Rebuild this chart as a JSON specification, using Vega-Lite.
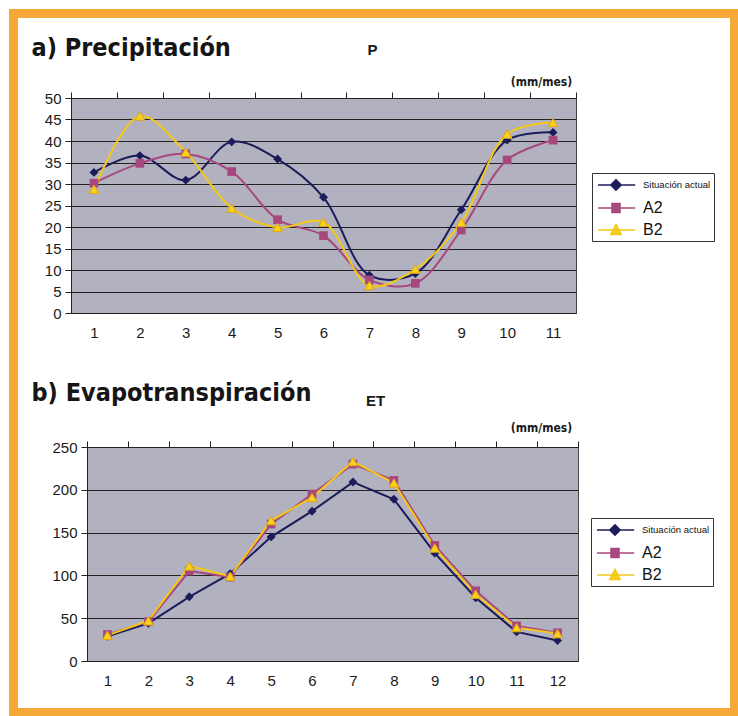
{
  "$schema": "https://vega.github.io/schema/vega-lite/v6.json",
  "background": "white",
  "padding": {"left": 8, "top": 8, "right": 0, "bottom": 0},
  "spacing": 134,
  "bounds": "flush",
  "datasets": {
    "precip": [
      {"mes": 1, "serie": "Situación actual", "valor": 32.7},
      {"mes": 2, "serie": "Situación actual", "valor": 36.6},
      {"mes": 3, "serie": "Situación actual", "valor": 30.9},
      {"mes": 4, "serie": "Situación actual", "valor": 39.8},
      {"mes": 5, "serie": "Situación actual", "valor": 35.8},
      {"mes": 6, "serie": "Situación actual", "valor": 26.9},
      {"mes": 7, "serie": "Situación actual", "valor": 8.8},
      {"mes": 8, "serie": "Situación actual", "valor": 9.2},
      {"mes": 9, "serie": "Situación actual", "valor": 24.0},
      {"mes": 10, "serie": "Situación actual", "valor": 40.2},
      {"mes": 11, "serie": "Situación actual", "valor": 42.0},
      {"mes": 1, "serie": "A2", "valor": 30.2},
      {"mes": 2, "serie": "A2", "valor": 34.8},
      {"mes": 3, "serie": "A2", "valor": 37.0},
      {"mes": 4, "serie": "A2", "valor": 32.9},
      {"mes": 5, "serie": "A2", "valor": 21.7},
      {"mes": 6, "serie": "A2", "valor": 18.0},
      {"mes": 7, "serie": "A2", "valor": 7.7},
      {"mes": 8, "serie": "A2", "valor": 6.9},
      {"mes": 9, "serie": "A2", "valor": 19.3},
      {"mes": 10, "serie": "A2", "valor": 35.6},
      {"mes": 11, "serie": "A2", "valor": 40.2},
      {"mes": 1, "serie": "B2", "valor": 28.8},
      {"mes": 2, "serie": "B2", "valor": 45.8},
      {"mes": 3, "serie": "B2", "valor": 37.4},
      {"mes": 4, "serie": "B2", "valor": 24.4},
      {"mes": 5, "serie": "B2", "valor": 19.9},
      {"mes": 6, "serie": "B2", "valor": 21.1},
      {"mes": 7, "serie": "B2", "valor": 6.4},
      {"mes": 8, "serie": "B2", "valor": 10.2},
      {"mes": 9, "serie": "B2", "valor": 21.1},
      {"mes": 10, "serie": "B2", "valor": 41.6},
      {"mes": 11, "serie": "B2", "valor": 44.3}
    ],
    "et": [
      {"mes": 1, "serie": "Situación actual", "valor": 29},
      {"mes": 2, "serie": "Situación actual", "valor": 44},
      {"mes": 3, "serie": "Situación actual", "valor": 75},
      {"mes": 4, "serie": "Situación actual", "valor": 102},
      {"mes": 5, "serie": "Situación actual", "valor": 145},
      {"mes": 6, "serie": "Situación actual", "valor": 175},
      {"mes": 7, "serie": "Situación actual", "valor": 209},
      {"mes": 8, "serie": "Situación actual", "valor": 189},
      {"mes": 9, "serie": "Situación actual", "valor": 126},
      {"mes": 10, "serie": "Situación actual", "valor": 74},
      {"mes": 11, "serie": "Situación actual", "valor": 34},
      {"mes": 12, "serie": "Situación actual", "valor": 24},
      {"mes": 1, "serie": "A2", "valor": 31},
      {"mes": 2, "serie": "A2", "valor": 46},
      {"mes": 3, "serie": "A2", "valor": 105},
      {"mes": 4, "serie": "A2", "valor": 98},
      {"mes": 5, "serie": "A2", "valor": 160},
      {"mes": 6, "serie": "A2", "valor": 195},
      {"mes": 7, "serie": "A2", "valor": 230},
      {"mes": 8, "serie": "A2", "valor": 211},
      {"mes": 9, "serie": "A2", "valor": 135},
      {"mes": 10, "serie": "A2", "valor": 82},
      {"mes": 11, "serie": "A2", "valor": 41},
      {"mes": 12, "serie": "A2", "valor": 33},
      {"mes": 1, "serie": "B2", "valor": 30},
      {"mes": 2, "serie": "B2", "valor": 47},
      {"mes": 3, "serie": "B2", "valor": 111},
      {"mes": 4, "serie": "B2", "valor": 99},
      {"mes": 5, "serie": "B2", "valor": 164},
      {"mes": 6, "serie": "B2", "valor": 191},
      {"mes": 7, "serie": "B2", "valor": 233},
      {"mes": 8, "serie": "B2", "valor": 208},
      {"mes": 9, "serie": "B2", "valor": 132},
      {"mes": 10, "serie": "B2", "valor": 78},
      {"mes": 11, "serie": "B2", "valor": 39},
      {"mes": 12, "serie": "B2", "valor": 32}
    ],
    "marco": [{"elemento": "marco"}]
  },
  "config": {
    "view": {"fill": "#b1b1c0", "stroke": "#444444", "strokeWidth": 1},
    "axis": {
      "domainColor": "#222222",
      "tickColor": "#222222",
      "gridColor": "#222222",
      "gridWidth": 1,
      "gridOpacity": 1,
      "labelFont": "Liberation Sans",
      "labelFontSize": 15,
      "labelColor": "#1a1a1a",
      "tickSize": 6
    },
    "legend": {
      "fillColor": "white",
      "strokeColor": "#333333",
      "padding": 3,
      "rowPadding": 5,
      "symbolSize": 256,
      "labelFont": "Liberation Sans",
      "labelColor": "#111111",
      "title": null
    }
  },
  "resolve": {"scale": {"color": "independent", "x": "independent", "y": "independent"}, "legend": {"color": "independent"}},
  "vconcat": [
    {
      "width": 505,
      "height": 215,
      "resolve": {"axis": {"x": "independent", "y": "independent"}},
      "layer": [
        {
          "data": {"name": "marco"},
          "mark": {"type": "rect", "filled": false, "color": "#f6a838", "strokeWidth": 9, "clip": false},
          "encoding": {
            "x": {"datum": -0.7525, "type": "quantitative", "scale": {"domain": [0.5, 11.5], "nice": false, "zero": false}, "axis": null},
            "x2": {"datum": 14.9525},
            "y": {"datum": 69.651, "type": "quantitative", "scale": {"domain": [0, 50], "nice": false, "zero": false}, "axis": null},
            "y2": {"datum": -92.907}
          }
        },
        {
          "data": {"name": "precip"},
          "mark": {"type": "line", "interpolate": "catmull-rom", "strokeWidth": 2},
          "encoding": {
            "x": {
              "field": "mes", "type": "quantitative",
              "axis": {
                "values": [1, 2, 3, 4, 5, 6, 7, 8, 9, 10, 11],
                "ticks": false, "domain": true, "grid": false, "labelPadding": 12,
                "labelFlush": false,
                "title": "(mm/mes)",
                "titleFont": "DejaVu Sans Condensed",
                "titleFontSize": 12, "titleFontWeight": "bold", "titleColor": "#1a1a1a",
                "titleAngle": 0, "titleAlign": "center", "titleBaseline": "alphabetic",
                "titleX": 470, "titleY": -228
              }
            },
            "y": {
              "field": "valor", "type": "quantitative",
              "axis": {
                "values": [0, 5, 10, 15, 20, 25, 30, 35, 40, 45, 50],
                "grid": true, "labelPadding": 4,
                "title": "a) Precipitación",
                "titleFont": "DejaVu Sans Condensed",
                "titleFontSize": 25, "titleFontWeight": "bold", "titleColor": "#151515",
                "titleAngle": 0, "titleAlign": "left", "titleBaseline": "alphabetic",
                "titleX": -40, "titleY": -43
              }
            },
            "color": {
              "field": "serie", "type": "nominal",
              "scale": {"domain": ["Situación actual", "A2", "B2"], "range": ["#1c1c5a", "#a8477e", "#f3c818"]},
              "legend": {
                "orient": "none", "legendX": 521, "legendY": 75,
                "encode": {
                  "symbols": {"update": {
                    "shape": {"signal": "datum.value === 'A2' ? 'M-0.75,0H3.9M1,-0.55H2V0.55H1Z' : datum.value === 'B2' ? 'M-0.75,0H3.9M1.5,-0.7L2.15,0.55H0.85Z' : 'M-0.75,0H3.9M1.5,-0.65L2.15,0L1.5,0.65L0.85,0Z'"},
                    "fill": {"signal": "datum.value === 'A2' ? '#a8477e' : datum.value === 'B2' ? '#f7d21a' : '#1c1c5a'"},
                    "stroke": {"signal": "datum.value === 'A2' ? '#a8477e' : datum.value === 'B2' ? '#f3e418' : '#1c1c5a'"},
                    "strokeWidth": {"value": 1.5},
                    "fillOpacity": {"value": 1},
                    "opacity": {"value": 1}
                  }},
                  "labels": {"update": {
                    "fontSize": {"signal": "datum.value === 'Situación actual' ? 9.5 : 16"},
                    "dx": {"value": 26}
                  }}
                }
              }
            }
          }
        },
        {
          "data": {"name": "precip"},
          "mark": {"type": "point", "filled": true, "size": 80, "opacity": 1, "shape": "diamond", "color": "#1c1c5a"},
          "transform": [{"filter": "datum.serie === 'Situación actual'"}],
          "encoding": {
            "x": {
              "field": "mes", "type": "quantitative",
              "axis": {
                "values": [0.5, 1.5, 2.5, 3.5, 4.5, 5.5, 6.5, 7.5, 8.5, 9.5, 10.5, 11.5],
                "labels": false, "ticks": true, "domain": false, "grid": false, "title": null
              }
            },
            "y": {
              "field": "valor", "type": "quantitative",
              "axis": {
                "orient": "right", "labels": false, "ticks": false, "domain": false, "grid": false,
                "title": "P",
                "titleFont": "Liberation Sans", "titleFontSize": 15, "titleFontWeight": "bold", "titleColor": "#1a1a1a",
                "titleAngle": 0, "titleAlign": "center", "titleBaseline": "alphabetic",
                "titleX": -204, "titleY": -44
              }
            }
          }
        },
        {
          "data": {"name": "precip"},
          "mark": {"type": "point", "filled": true, "size": 75, "opacity": 1, "shape": "square", "color": "#a8477e"},
          "transform": [{"filter": "datum.serie === 'A2'"}],
          "encoding": {
            "x": {"field": "mes", "type": "quantitative", "axis": null},
            "y": {"field": "valor", "type": "quantitative", "axis": null}
          }
        },
        {
          "data": {"name": "precip"},
          "mark": {"type": "point", "filled": true, "size": 95, "opacity": 1, "shape": "triangle-up", "fill": "#f7d21a", "stroke": "#e0a21a", "strokeWidth": 1},
          "transform": [{"filter": "datum.serie === 'B2'"}],
          "encoding": {
            "x": {"field": "mes", "type": "quantitative", "axis": null},
            "y": {"field": "valor", "type": "quantitative", "axis": null}
          }
        }
      ]
    },
    {
      "bounds": "flush",
      "spacing": 8,
      "resolve": {"scale": {"color": "independent", "x": "independent", "y": "independent"}, "legend": {"color": "independent"}},
      "hconcat": [
        {
          "width": 8,
          "height": 1,
          "data": {"values": []},
          "mark": "point",
          "view": {"fill": "transparent", "stroke": "transparent"}
        },
        {
          "width": 491,
          "height": 214,
          "data": {"name": "et"},
          "resolve": {"axis": {"x": "independent", "y": "independent"}},
          "encoding": {
            "x": {"field": "mes", "type": "quantitative", "axis": null},
            "y": {"field": "valor", "type": "quantitative", "axis": null}
          },
          "layer": [
            {
              "mark": {"type": "line", "strokeWidth": 2},
              "encoding": {
                "x": {
                  "field": "mes", "type": "quantitative",
                  "scale": {"domain": [0.5, 12.5], "nice": false, "zero": false},
                  "axis": {
                    "values": [1, 2, 3, 4, 5, 6, 7, 8, 9, 10, 11, 12],
                    "ticks": false, "domain": true, "grid": false, "labelPadding": 12,
                    "labelFlush": false,
                    "title": "(mm/mes)",
                    "titleFont": "DejaVu Sans Condensed",
                    "titleFontSize": 12, "titleFontWeight": "bold", "titleColor": "#1a1a1a",
                    "titleAngle": 0, "titleAlign": "center", "titleBaseline": "alphabetic",
                    "titleX": 454, "titleY": -230
                  }
                },
                "y": {
                  "field": "valor", "type": "quantitative",
                  "scale": {"domain": [0, 250], "nice": false},
                  "axis": {
                    "values": [0, 50, 100, 150, 200, 250],
                    "grid": true, "labelPadding": 4,
                    "title": "b) Evapotranspiración",
                    "titleFont": "DejaVu Sans Condensed",
                    "titleFontSize": 25, "titleFontWeight": "bold", "titleColor": "#151515",
                    "titleAngle": 0, "titleAlign": "left", "titleBaseline": "alphabetic",
                    "titleX": -56, "titleY": -47
                  }
                },
                "color": {
                  "field": "serie", "type": "nominal",
                  "scale": {"domain": ["Situación actual", "A2", "B2"], "range": ["#1c1c5a", "#a8477e", "#f3c818"]},
                  "legend": {
                    "orient": "none", "legendX": 504, "legendY": 71,
                    "encode": {
                      "symbols": {"update": {
                        "shape": {"signal": "datum.value === 'A2' ? 'M-0.75,0H3.9M1,-0.55H2V0.55H1Z' : datum.value === 'B2' ? 'M-0.75,0H3.9M1.5,-0.7L2.15,0.55H0.85Z' : 'M-0.75,0H3.9M1.5,-0.65L2.15,0L1.5,0.65L0.85,0Z'"},
                        "fill": {"signal": "datum.value === 'A2' ? '#a8477e' : datum.value === 'B2' ? '#f7d21a' : '#1c1c5a'"},
                        "stroke": {"signal": "datum.value === 'A2' ? '#a8477e' : datum.value === 'B2' ? '#f3e418' : '#1c1c5a'"},
                        "strokeWidth": {"value": 1.5},
                        "fillOpacity": {"value": 1},
                        "opacity": {"value": 1}
                      }},
                      "labels": {"update": {
                        "fontSize": {"signal": "datum.value === 'Situación actual' ? 9.5 : 16"},
                        "dx": {"value": 26}
                      }}
                    }
                  }
                }
              }
            },
            {
              "mark": {"type": "point", "filled": true, "size": 80, "opacity": 1, "shape": "diamond", "color": "#1c1c5a"},
              "transform": [{"filter": "datum.serie === 'Situación actual'"}],
              "encoding": {
                "x": {
                  "field": "mes", "type": "quantitative",
                  "axis": {
                    "values": [0.5, 1.5, 2.5, 3.5, 4.5, 5.5, 6.5, 7.5, 8.5, 9.5, 10.5, 11.5, 12.5],
                    "labels": false, "ticks": true, "domain": false, "grid": false, "title": null
                  }
                },
                "y": {
                  "field": "valor", "type": "quantitative",
                  "axis": {
                    "orient": "right", "labels": false, "ticks": false, "domain": false, "grid": false,
                    "title": "ET",
                    "titleFont": "Liberation Sans", "titleFontSize": 15, "titleFontWeight": "bold", "titleColor": "#1a1a1a",
                    "titleAngle": 0, "titleAlign": "center", "titleBaseline": "alphabetic",
                    "titleX": -203, "titleY": -42
                  }
                }
              }
            },
            {
              "mark": {"type": "point", "filled": true, "size": 75, "opacity": 1, "shape": "square", "color": "#a8477e"},
              "transform": [{"filter": "datum.serie === 'A2'"}]
            },
            {
              "mark": {"type": "point", "filled": true, "size": 95, "opacity": 1, "shape": "triangle-up", "fill": "#f7d21a", "stroke": "#e0a21a", "strokeWidth": 1},
              "transform": [{"filter": "datum.serie === 'B2'"}]
            }
          ]
        }
      ]
    }
  ]
}
